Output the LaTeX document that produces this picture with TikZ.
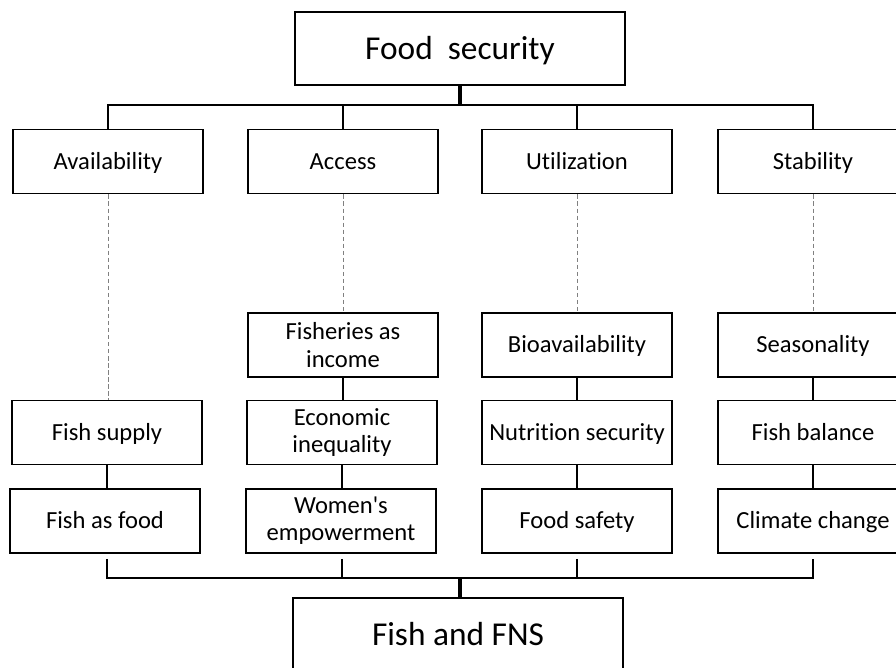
\documentclass[tikz,border=0pt]{standalone}
\usepackage{fontspec}
\setmainfont{Carlito}[Ligatures=NoCommon]
\usetikzlibrary{positioning}

\tikzset{
  box/.style={draw, line width=1.1pt, minimum width=3.8cm, minimum height=1.28cm,
    align=center, inner sep=1pt, font=\fontsize{14}{15.5}\selectfont},
  onebox/.style={box, text height=9pt, text depth=0pt},
  bigbox/.style={draw, line width=1.1pt, minimum width=6.6cm, minimum height=1.46cm,
    text height=12.2pt, text depth=0pt, font=\fontsize{19}{22}\selectfont},
  link/.style={line width=0.8pt},
  trunk/.style={line width=2pt},
  dotlink/.style={gray, line width=0.5pt, dash pattern=on 2.5pt off 1.5pt},
}

\begin{document}
\begin{tikzpicture}[x=0.02cm, y=-0.02cm]
\useasboundingbox (0,0) rectangle (896,667);
\clip (0,0) rectangle (896,667);

%%Top
\node[bigbox] (fs) at (460,48.5) {Food\ \ security};

%%Pillars
\node[onebox] (av) at (108,161.5) {Availability};
\node[onebox] (ac) at (343,161.5) {Access};
\node[onebox] (ut) at (577,161.5) {Utilization};
\node[onebox] (st) at (813,161.5) {Stability};

%%Fish boxes
\node[box] (inc) at (343,345) {Fisheries as\\income};
\node[onebox] (bio) at (577,345) {Bioavailability};
\node[onebox] (sea) at (813,345) {Seasonality};

\node[onebox] (sup) at (107,432.5) {Fish supply};
\node[box] (ineq) at (342,432.5) {Economic\\inequality};
\node[onebox] (nut) at (577,432.5) {Nutrition security};
\node[onebox] (bal) at (813,432.5) {Fish balance};

\node[onebox] (ff) at (105,521) {Fish as food};
\node[box] (we) at (341,521) {Women\textquotesingle s\\empowerment};
\node[onebox] (saf) at (577,521) {Food safety};
\node[onebox] (cc) at (813,521) {Climate change};

%%Bottom
\node[bigbox] (fns) at (458,634.5) {Fish and FNS};

%%Top tree
\coordinate (topbus) at (460,105);
\draw[trunk] (fs.south) -- (topbus);
\draw[link] (av.north) |- (topbus) -| (st.north);
\draw[link] (ac.north) -- (ac.north |- topbus);
\draw[link] (ut.north) -- (ut.north |- topbus);

%%Dashed links
\draw[dotlink] (av.south) -- (av.south |- sup.north);
\draw[dotlink] (ac.south) -- (inc.north);
\draw[dotlink] (ut.south) -- (bio.north);
\draw[dotlink] (st.south) -- (sea.north);

%%Stacks
\draw[link] (inc.south) -- (inc.south |- ineq.north);
\draw[link] (ineq.south) -- (ineq.south |- we.north);
\draw[link] (bio.south) -- (nut.north);
\draw[link] (nut.south) -- (saf.north);
\draw[link] (sea.south) -- (bal.north);
\draw[link] (bal.south) -- (cc.north);
\draw[link] (sup.south) -- (sup.south |- ff.north);

%%Bottom tree
\coordinate (botbus) at (460,578);
\draw[trunk] (botbus) -- (botbus |- fns.north);
\draw[link] ([yshift=-0.1cm]sup.south |- ff.south) |- (botbus) -| ([yshift=-0.1cm]cc.south);
\draw[link] ([yshift=-0.1cm]ineq.south |- we.south) -- (ineq.south |- botbus);
\draw[link] ([yshift=-0.1cm]saf.south) -- (saf.south |- botbus);
\end{tikzpicture}
\end{document}
